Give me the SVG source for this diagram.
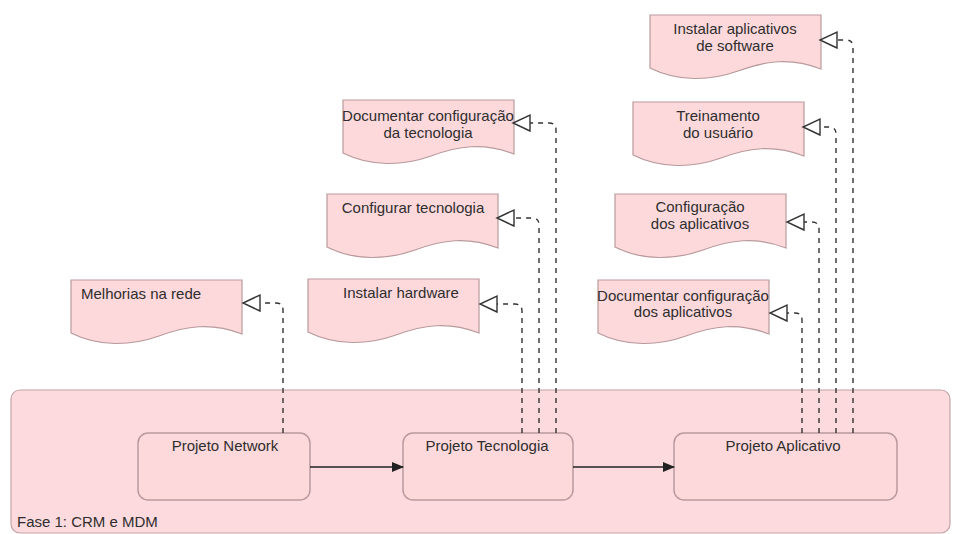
<svg xmlns="http://www.w3.org/2000/svg" width="953" height="534" viewBox="0 0 953 534">
  <style>
    .doc { fill: #fdd9dc; stroke: #b99a9c; stroke-width: 1.2; }
    .proc { fill: #fdd9dc; stroke: #b99a9c; stroke-width: 1.5; }
    .phase { fill: #fddadd; stroke: #c4a4a6; stroke-width: 1.2; }
    .lbl { font-family: "Liberation Sans", Arial, sans-serif; font-size: 15px; fill: #2e2e2e; }
    .mid { text-anchor: middle; }
    .dep { fill: none; stroke: #333; stroke-width: 1.4; stroke-dasharray: 5 5; marker-end: url(#openTri); }
    .flow { fill: none; stroke: #222; stroke-width: 1.6; marker-end: url(#solidTri); }
  </style>
  <defs>
    <!-- document shape with wavy bottom edge -->
    <path id="docShape" d="M0,0 H171 V54 C140,42 115,46 88,56 C60,66 28,67 0,53 Z"/>
    <marker id="openTri" viewBox="0 0 20 20" refX="1" refY="10" markerWidth="20" markerHeight="20" markerUnits="userSpaceOnUse" orient="auto">
      <path d="M1,2 L18,10 L1,18 Z" fill="#fff" stroke="#333" stroke-width="1.4"/>
    </marker>
    <marker id="solidTri" viewBox="0 0 12 10" refX="11" refY="5" markerWidth="12" markerHeight="10" markerUnits="userSpaceOnUse" orient="auto">
      <path d="M0,0 L12,5 L0,10 Z" fill="#222"/>
    </marker>
  </defs>

  <rect width="953" height="534" fill="#fff"/>

  <!-- phase container -->
  <g id="phase">
    <rect class="phase" x="11" y="390" width="939" height="143" rx="9"/>
    <text class="lbl" x="17" y="527">Fase 1: CRM e MDM</text>
  </g>

  <!-- process boxes -->
  <g id="projeto-network">
    <rect class="proc" x="138" y="433" width="172" height="67" rx="10"/>
    <text class="lbl mid" x="225" y="451">Projeto Network</text>
  </g>
  <g id="projeto-tecnologia">
    <rect class="proc" x="403" y="433" width="170" height="67" rx="10"/>
    <text class="lbl mid" x="487" y="451">Projeto Tecnologia</text>
  </g>
  <g id="projeto-aplicativo">
    <rect class="proc" x="674" y="433" width="223" height="67" rx="10"/>
    <text class="lbl mid" x="783" y="451">Projeto Aplicativo</text>
  </g>

  <!-- deliverable documents -->
  <g id="doc-melhorias">
    <use href="#docShape" class="doc" x="71" y="280"/>
    <text class="lbl" x="81" y="299">Melhorias na rede</text>
  </g>
  <g id="doc-documentar-tecnologia">
    <use href="#docShape" class="doc" x="343" y="100"/>
    <text class="lbl mid" x="428" y="121">Documentar configuração</text>
    <text class="lbl mid" x="428" y="138">da tecnologia</text>
  </g>
  <g id="doc-configurar-tecnologia">
    <use href="#docShape" class="doc" x="327" y="194"/>
    <text class="lbl mid" x="413" y="213">Configurar tecnologia</text>
  </g>
  <g id="doc-instalar-hardware">
    <use href="#docShape" class="doc" x="308" y="279"/>
    <text class="lbl mid" x="401" y="298">Instalar hardware</text>
  </g>
  <g id="doc-instalar-aplicativos">
    <use href="#docShape" class="doc" x="650" y="15"/>
    <text class="lbl mid" x="735" y="34">Instalar aplicativos</text>
    <text class="lbl mid" x="735" y="51">de software</text>
  </g>
  <g id="doc-treinamento">
    <use href="#docShape" class="doc" x="633" y="102"/>
    <text class="lbl mid" x="718" y="121">Treinamento</text>
    <text class="lbl mid" x="718" y="138">do usuário</text>
  </g>
  <g id="doc-configuracao-aplicativos">
    <use href="#docShape" class="doc" x="615" y="194"/>
    <text class="lbl mid" x="700" y="212">Configuração</text>
    <text class="lbl mid" x="700" y="229">dos aplicativos</text>
  </g>
  <g id="doc-documentar-aplicativos">
    <use href="#docShape" class="doc" x="598" y="280"/>
    <text class="lbl mid" x="683" y="301">Documentar configuração</text>
    <text class="lbl mid" x="683" y="317">dos aplicativos</text>
  </g>

  <!-- connectors -->
  <g id="connectors">
    <path class="flow" d="M310,467 H403"/>
    <path class="flow" d="M573,467 H674"/>

    <path class="dep" d="M283,433 V310 Q283,303 276,303 H260"/>

    <path class="dep" d="M522,433 V311 Q522,304 515,304 H497"/>
    <path class="dep" d="M539,433 V225 Q539,218 532,218 H514"/>
    <path class="dep" d="M556,433 V130 Q556,123 549,123 H530"/>

    <path class="dep" d="M802,433 V320 Q802,313 795,313 H787"/>
    <path class="dep" d="M819,433 V229 Q819,222 812,222 H804"/>
    <path class="dep" d="M836,433 V134 Q836,127 829,127 H820"/>
    <path class="dep" d="M853,433 V47 Q853,40 846,40 H837"/>
  </g>
</svg>
